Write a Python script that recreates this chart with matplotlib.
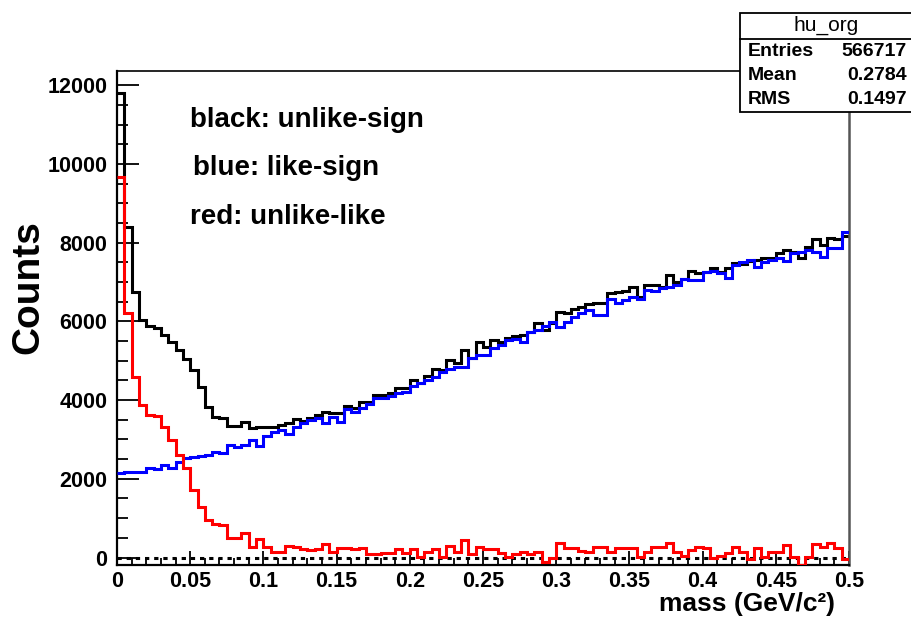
import numpy as np
import matplotlib
matplotlib.use("Agg")
import matplotlib.pyplot as plt
from matplotlib.patches import Rectangle
from matplotlib.lines import Line2D
from matplotlib.ticker import MultipleLocator, FuncFormatter

plt.rcParams['font.family'] = ['Liberation Sans', 'DejaVu Sans']

# histogram: 100 bins from 0 to 0.5 GeV/c^2
bin_lo = 0.0
bin_hi = 0.5
n_bins = 100

# unlike-sign (black)
black = [11790, 8403, 6751, 6032, 5880, 5821, 5652, 5482, 5270, 5034,
         4763, 4339, 3830, 3576, 3535, 3340, 3340, 3450, 3282, 3323,
         3323, 3323, 3365, 3408, 3510, 3475, 3535, 3620, 3705, 3679,
         3679, 3848, 3790, 3958, 3958, 4128, 4128, 4187, 4297, 4297,
         4509, 4424, 4610, 4780, 4763, 5017, 4932, 5270, 5058, 5482,
         5338, 5524, 5482, 5566, 5626, 5652, 5736, 5948, 5778, 5948,
         6244, 6202, 6304, 6371, 6439, 6456, 6456, 6710, 6735, 6778,
         6880, 6625, 6922, 6922, 6880, 7175, 7005, 7065, 7276, 7217,
         7243, 7345, 7260, 7360, 7470, 7445, 7530, 7556, 7615, 7615,
         7726, 7810, 7768, 7598, 7895, 8090, 7937, 8124, 8090, 8175]

# like-sign (blue)
blue = [2140, 2160, 2180, 2180, 2282, 2240, 2350, 2265, 2434, 2519,
        2545, 2570, 2604, 2688, 2660, 2858, 2815, 2858, 2985, 2830,
        3086, 3196, 3239, 3150, 3323, 3408, 3493, 3535, 3425, 3560,
        3450, 3764, 3705, 3790, 3900, 4043, 4043, 4102, 4170, 4212,
        4356, 4424, 4509, 4594, 4720, 4780, 4830, 4830, 5058, 5143,
        5143, 5313, 5397, 5524, 5550, 5482, 5736, 5778, 5880, 5990,
        5863, 5990, 6100, 6202, 6287, 6160, 6160, 6558, 6456, 6541,
        6625, 6558, 6800, 6770, 6855, 6880, 6922, 7065, 7048, 7048,
        7260, 7276, 7217, 7108, 7429, 7514, 7556, 7387, 7514, 7556,
        7598, 7530, 7726, 7768, 7810, 7750, 7641, 7852, 7870, 8276]

# unlike-like (red)
red = [9657, 6202, 4577, 3874, 3620, 3600, 3323, 2985, 2604, 2265,
       1715, 1291, 953, 851, 820, 487, 487, 614, 275, 480,
       275, 150, 150, 300, 258, 207, 200, 210, 335, 148,
       233, 230, 225, 235, 81, 81, 106, 106, 207, 106,
       207, 21, 148, 207, 21, 300, 148, 445, 81, 275,
       207, 207, 106, 21, 81, 148, 81, 148, -106, -21,
       360, 233, 233, 165, 148, 275, 275, 148, 233, 233,
       250, 21, 150, 258, 258, 360, 148, 30, 190, 258,
       233, 0, 40, 106, 258, 148, -40, 233, 21, 148,
       148, 318, 21, -190, 21, 335, 258, 360, 233, -40]

stats_title = "hu_org"
stats_names = ["Entries", "Mean", "RMS"]
stats_values = ["566717", "0.2784", "0.1497"]

edges = np.linspace(bin_lo, bin_hi, n_bins + 1)

fig = plt.figure(figsize=(9.11, 6.2), dpi=100)
ax = fig.add_axes([117 / 911, 55 / 620, 732 / 911, 494 / 620])

ax.axhline(0, color='black', lw=2.2, ls=(0, (1.4, 1.6)), zorder=1)
ax.stairs(black, edges, baseline=None, color='black', lw=2.2, zorder=2)
ax.stairs(blue, edges, baseline=None, color='#0000ff', lw=2.2, zorder=3)
ax.stairs(red, edges, baseline=None, color='#ff0000', lw=2.2, zorder=4)

ax.set_xlim(bin_lo, bin_hi)
ax.set_ylim(-190, 12360)

ax.xaxis.set_major_locator(MultipleLocator(0.05))
ax.xaxis.set_minor_locator(MultipleLocator(0.01))
ax.yaxis.set_major_locator(MultipleLocator(2000))
ax.yaxis.set_minor_locator(MultipleLocator(500))
ax.xaxis.set_major_formatter(FuncFormatter(lambda v, p: "%g" % round(v, 3)))
ax.yaxis.set_major_formatter(FuncFormatter(lambda v, p: "%d" % v))

ax.tick_params(axis='both', which='both', direction='in', width=1.3,
               top=False, right=False)
ax.tick_params(axis='y', which='major', length=16, pad=7, labelsize=15.5)
ax.tick_params(axis='y', which='minor', length=8)
ax.tick_params(axis='x', which='major', length=10, pad=4, labelsize=15.5)
ax.tick_params(axis='x', which='minor', length=5)
for lab in ax.get_xticklabels() + ax.get_yticklabels():
    lab.set_fontweight('bold')

for side in ['left', 'bottom']:
    ax.spines[side].set_linewidth(1.6)
ax.spines['top'].set_linewidth(1.2)
ax.spines['right'].set_linewidth(1.8)
ax.spines['right'].set_color('#555555')

# legend texts written on the pad
fig.text(190 / 911, 1 - 120 / 620, "black: unlike-sign", fontsize=20,
         fontweight='bold', va='center')
fig.text(193 / 911, 1 - 168 / 620, "blue: like-sign", fontsize=20,
         fontweight='bold', va='center')
fig.text(190 / 911, 1 - 217 / 620, "red: unlike-like", fontsize=20,
         fontweight='bold', va='center')

fig.text(28 / 911, 1 - 287 / 620, "Counts", fontsize=28, fontweight='bold',
         rotation=90, ha='center', va='center')
fig.text(835 / 911, 1 - 604 / 620, "mass (GeV/c²)", fontsize=19,
         fontweight='bold', ha='right', va='center')

# stats box
fig.add_artist(Rectangle((740 / 911, 1 - 112 / 620), 200 / 911, 99 / 620,
                         transform=fig.transFigure, facecolor='white',
                         edgecolor='black', lw=1.3, zorder=10))
fig.add_artist(Line2D([740 / 911, 1.0], [1 - 39 / 620, 1 - 39 / 620],
                      transform=fig.transFigure, color='black', lw=1.3,
                      zorder=11))
fig.text(826 / 911, 1 - 25 / 620, stats_title, fontsize=15, ha='center',
         va='center', zorder=12)
for i, (nm, val) in enumerate(zip(stats_names, stats_values)):
    y = 1 - (52 + 24 * i) / 620
    fig.text(748 / 911, y, nm, fontsize=14, fontweight='bold', ha='left',
             va='center', zorder=12)
    fig.text(907 / 911, y, val, fontsize=14, fontweight='bold', ha='right',
             va='center', zorder=12)

fig.savefig("out.png", dpi=100)
